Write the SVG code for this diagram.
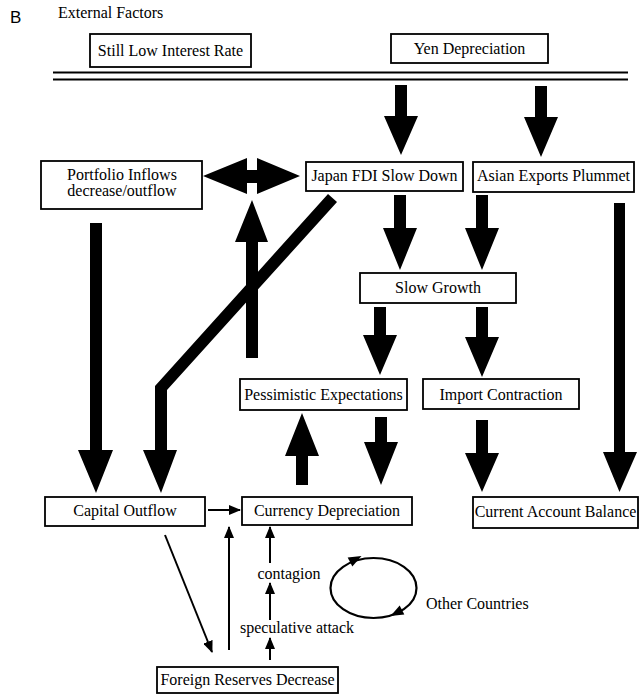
<svg xmlns="http://www.w3.org/2000/svg" width="639" height="699" viewBox="0 0 639 699">
<style>
.box{fill:#fff;stroke:#000;stroke-width:1.8}
.t{font-family:"Liberation Serif","DejaVu Serif",serif;font-size:16px;fill:#000;text-anchor:middle}
.big{fill:#000;stroke:none}
.thin{stroke:#000;stroke-width:2;fill:none;marker-end:url(#ah)}
</style>
<defs>
<marker id="ah" viewBox="0 0 12 10" refX="11" refY="5" markerWidth="12" markerHeight="10" markerUnits="userSpaceOnUse" orient="auto">
<path d="M0,0 L12,5 L0,10 z" fill="#000"/>
</marker>
</defs>
<rect width="639" height="699" fill="#fff"/>
<text x="10" y="23" font-family="Liberation Sans,Arial,sans-serif" font-size="17" fill="#000">B</text>
<text x="58" y="18" class="t" style="text-anchor:start">External Factors</text>
<g id="doubleline" stroke="#000" stroke-width="2.2">
<line x1="53" y1="72.5" x2="628" y2="72.5"/>
<line x1="53" y1="79.5" x2="628" y2="79.5"/>
</g>
<g id="still-low"><rect class="box" x="90" y="34" width="161" height="33"/><text class="t" x="170.5" y="56">Still Low Interest Rate</text></g>
<g id="yen"><rect class="box" x="391" y="34" width="157" height="29"/><text class="t" x="469.5" y="54">Yen Depreciation</text></g>
<g id="portfolio"><rect class="box" x="41" y="161" width="161" height="48"/><text class="t" x="122" y="180">Portfolio Inflows</text><text class="t" x="122" y="196">decrease/outflow</text></g>
<g id="japan"><rect class="box" x="306" y="162" width="157" height="29"/><text class="t" x="384.5" y="181">Japan FDI Slow Down</text></g>
<g id="asian"><rect class="box" x="473" y="162" width="161" height="30"/><text class="t" x="553.5" y="181">Asian Exports Plummet</text></g>
<g id="slow"><rect class="box" x="360" y="273" width="156" height="30"/><text class="t" x="438" y="293">Slow Growth</text></g>
<g id="pess"><rect class="box" x="240" y="379" width="167" height="31"/><text class="t" x="323.5" y="400">Pessimistic Expectations</text></g>
<g id="import"><rect class="box" x="423" y="379" width="156" height="30"/><text class="t" x="501" y="400">Import Contraction</text></g>
<g id="capital"><rect class="box" x="45" y="497" width="160" height="29"/><text class="t" x="125" y="516">Capital Outflow</text></g>
<g id="currency"><rect class="box" x="242" y="497" width="170" height="28"/><text class="t" x="327" y="516">Currency Depreciation</text></g>
<g id="current"><rect class="box" x="473" y="497" width="165" height="31"/><text class="t" x="555.5" y="517">Current Account Balance</text></g>
<g id="foreign"><rect class="box" x="157" y="667" width="181" height="26"/><text class="t" x="247.5" y="685">Foreign Reserves Decrease</text></g>
<g id="labels">
<text class="t" x="289" y="579">contagion</text>
<text class="t" x="297" y="633">speculative attack</text>
<text class="t" x="426" y="609" style="text-anchor:start">Other Countries</text>
</g>
<g id="connectors">
<g class="big">
<polygon points="395,85 407,85 407,116 418,116 401,155 384,116 395,116"/>
<polygon points="535,86 547,86 547,117 558,117 541,157 524,117 535,117"/>
<polygon points="394,195 406,195 406,228 417,228 400,270 383,228 394,228"/>
<polygon points="476,195 488,195 488,228 499,228 482,270 465,228 476,228"/>
<polygon points="614,203 625,203 625,452 637,452 619.5,492 603,452 614,452"/>
<polygon points="374,307 386,307 386,335 397,335 380,375 363,335 374,335"/>
<polygon points="476,307 488,307 488,337 499,337 482,377 465,337 476,337"/>
<polygon points="375,417 387,417 387,442 398,442 381,485 364,442 375,442"/>
<polygon points="476,420 488,420 488,453 499,453 482,492 465,453 476,453"/>
<polygon points="296,485 308,485 308,456 319,456 302,413 285,456 296,456"/>
<polygon points="246,358 258,358 258,242 268,242 252,200 235,242 246,242"/>
<polygon points="90,223 102,223 102,450 113,450 96,493 78,450 90,450"/>
<polygon points="203,176 247,158 247,170 257,170 257,158 300,176 257,194 257,183 247,183 247,194"/>
<polygon points="155,450 155,386 328,194 337,202 167,390 167,450 177,450 161,493 143,450"/>
</g>
<line class="thin" x1="208" y1="510" x2="240" y2="510"/>
<line class="thin" x1="165" y1="535" x2="212" y2="652"/>
<line class="thin" x1="229" y1="650" x2="229" y2="527"/>
<line class="thin" x1="270" y1="563" x2="270" y2="527"/>
<line class="thin" x1="270" y1="620" x2="270" y2="583"/>
<line class="thin" x1="270" y1="660" x2="270" y2="638"/>
<ellipse cx="373.5" cy="588" rx="43" ry="30" fill="none" stroke="#000" stroke-width="2.2"/>
<polygon points="0,-5 13,0 0,5" fill="#000" transform="translate(350,562) rotate(-28)"/>
<polygon points="0,-5 13,0 0,5" fill="#000" transform="translate(402,610) rotate(152)"/>
</g>
</svg>
